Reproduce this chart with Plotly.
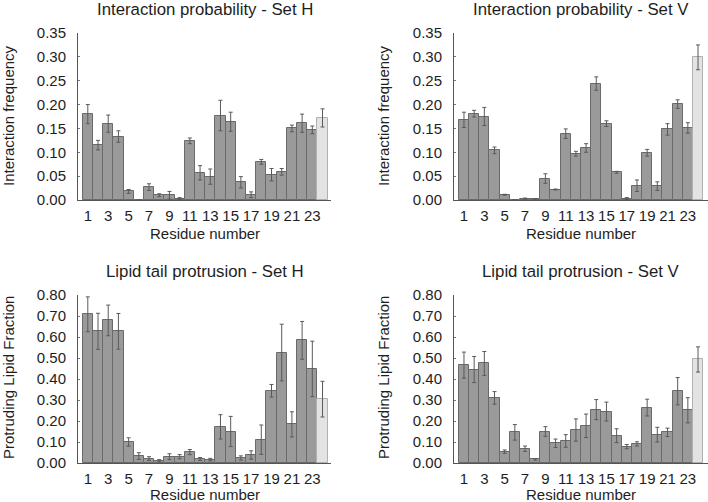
import plotly.graph_objects as go

residues = list(range(1, 25))
tick_vals = list(range(1, 24, 2))

# Interaction probability - Set H
int_H = [0.180, 0.115, 0.160, 0.133, 0.018, 0.0, 0.027, 0.010, 0.010, 0.003, 0.124, 0.057,
         0.049, 0.177, 0.164, 0.037, 0.011, 0.080, 0.053, 0.059, 0.150, 0.161, 0.147, 0.172]
int_H_err = [0.020, 0.010, 0.018, 0.012, 0.004, 0.0, 0.007, 0.003, 0.008, 0.002, 0.006, 0.015,
             0.016, 0.032, 0.020, 0.012, 0.006, 0.005, 0.013, 0.007, 0.007, 0.019, 0.008, 0.019]

# Interaction probability - Set V
int_V = [0.168, 0.181, 0.175, 0.104, 0.011, 0.001, 0.003, 0.002, 0.045, 0.022, 0.139, 0.097,
         0.109, 0.244, 0.160, 0.058, 0.003, 0.030, 0.099, 0.029, 0.148, 0.201, 0.151, 0.299]
int_V_err = [0.016, 0.007, 0.019, 0.007, 0.001, 0.0, 0.001, 0.0, 0.010, 0.001, 0.010, 0.005,
             0.009, 0.014, 0.006, 0.002, 0.002, 0.012, 0.007, 0.009, 0.012, 0.009, 0.011, 0.026]

# Lipid tail protrusion - Set H
lip_H = [0.708, 0.627, 0.679, 0.627, 0.100, 0.033, 0.021, 0.011, 0.030, 0.030, 0.052, 0.019,
         0.016, 0.172, 0.150, 0.024, 0.038, 0.111, 0.344, 0.526, 0.184, 0.584, 0.448, 0.304]
lip_H_err = [0.083, 0.086, 0.073, 0.085, 0.020, 0.016, 0.009, 0.005, 0.014, 0.010, 0.012, 0.007,
             0.006, 0.058, 0.072, 0.010, 0.020, 0.070, 0.030, 0.135, 0.060, 0.090, 0.132, 0.085]

# Lipid tail protrusion - Set V
lip_V = [0.466, 0.445, 0.474, 0.310, 0.054, 0.146, 0.068, 0.017, 0.150, 0.094, 0.105, 0.157,
         0.177, 0.254, 0.245, 0.130, 0.078, 0.091, 0.264, 0.135, 0.146, 0.342, 0.251, 0.493]
lip_V_err = [0.062, 0.062, 0.057, 0.030, 0.008, 0.037, 0.013, 0.004, 0.023, 0.020, 0.030, 0.053,
             0.056, 0.048, 0.045, 0.033, 0.010, 0.010, 0.040, 0.035, 0.020, 0.065, 0.060, 0.060]

W, H = 708, 502
FONT = "Liberation Sans, Arial, Helvetica, sans-serif"
TXT = "#1e1e1e"

fill = ["#9a9a9a"] * 23 + ["#e3e3e3"]
edge = ["#6a6a6a"] * 23 + ["#b0b0b0"]

panels = [
    dict(y=int_H, e=int_H_err, x0=78, x1=331, top=33, bot=200, rng=[0.04, 24.83], yr=[0, 0.35], dt=0.05,
         title="Interaction probability - Set H", ytitle="Interaction frequency", tx=205, ty=10, ytx=8, yty=116, xtx=205, xty=233),
    dict(y=int_V, e=int_V_err, x0=454, x1=708, top=33, bot=200, rng=[0.02, 24.98], yr=[0, 0.35], dt=0.05,
         title="Interaction probability - Set V", ytitle="Interaction frequency", tx=581, ty=10, ytx=383, yty=116, xtx=581, xty=233),
    dict(y=lip_H, e=lip_H_err, x0=78, x1=331, top=295, bot=463, rng=[0.04, 24.83], yr=[0, 0.80], dt=0.10,
         title="Lipid tail protrusion - Set H", ytitle="Protruding Lipid Fraction", tx=205, ty=271, ytx=8, yty=378, xtx=205, xty=494),
    dict(y=lip_V, e=lip_V_err, x0=454, x1=708, top=295, bot=463, rng=[0.02, 24.98], yr=[0, 0.80], dt=0.10,
         title="Lipid tail protrusion - Set V", ytitle="Protruding Lipid Fraction", tx=581, ty=271, ytx=383, yty=378, xtx=581, xty=494),
]

fig = go.Figure()
layout = dict(width=W, height=H, margin=dict(l=0, r=0, t=0, b=0, pad=0, autoexpand=False),
              paper_bgcolor="white", plot_bgcolor="white", showlegend=False,
              font=dict(family=FONT, color=TXT, size=15), bargap=0)
annotations = []

for i, p in enumerate(panels, start=1):
    xa = "x" if i == 1 else f"x{i}"
    ya = "y" if i == 1 else f"y{i}"
    fig.add_trace(go.Bar(
        x=residues, y=p["y"], xaxis=xa, yaxis=ya, width=1.0,
        marker=dict(color=fill, line=dict(color=edge, width=1)),
        error_y=dict(type="data", array=p["e"], color="#5a5a5a", thickness=1, width=2),
    ))
    yticks = [round(k * p["dt"], 2) for k in range(int(round(p["yr"][1] / p["dt"])) + 1)]
    layout["xaxis" if i == 1 else f"xaxis{i}"] = dict(
        domain=[p["x0"] / W, p["x1"] / W], range=p["rng"], anchor=ya, automargin=False,
        tickmode="array", tickvals=tick_vals, ticks="", showgrid=False, zeroline=False,
        showline=True, linecolor="#555555", linewidth=1,
        tickfont=dict(size=15, color=TXT, family=FONT), ticklabelstandoff=2)
    layout["yaxis" if i == 1 else f"yaxis{i}"] = dict(
        domain=[1 - p["bot"] / H, 1 - p["top"] / H], range=p["yr"], anchor=xa, automargin=False,
        tickmode="array", tickvals=yticks, ticktext=[f"{v:.2f}" for v in yticks],
        ticks="inside", ticklen=2, tickcolor="#777777", showgrid=False, zeroline=False,
        showline=True, linecolor="#555555", linewidth=1,
        tickfont=dict(size=15, color=TXT, family=FONT), ticklabelstandoff=8)
    annotations.append(dict(text=p["title"], x=p["tx"] / W, y=1 - p["ty"] / H, xref="paper", yref="paper",
                            showarrow=False, xanchor="center", yanchor="middle",
                            font=dict(size=16.8, color=TXT, family=FONT)))
    annotations.append(dict(text="Residue number", x=p["xtx"] / W, y=1 - p["xty"] / H, xref="paper", yref="paper",
                            showarrow=False, xanchor="center", yanchor="middle",
                            font=dict(size=15, color=TXT, family=FONT)))
    annotations.append(dict(text=p["ytitle"], x=p["ytx"] / W, y=1 - p["yty"] / H, xref="paper", yref="paper",
                            showarrow=False, xanchor="center", yanchor="middle", textangle=-90,
                            font=dict(size=15, color=TXT, family=FONT)))

layout["annotations"] = annotations
fig.update_layout(**layout)
fig.write_html("out.html", config={"displayModeBar": False},
               post_script="document.body.style.margin='0';document.body.style.overflow='hidden';")
